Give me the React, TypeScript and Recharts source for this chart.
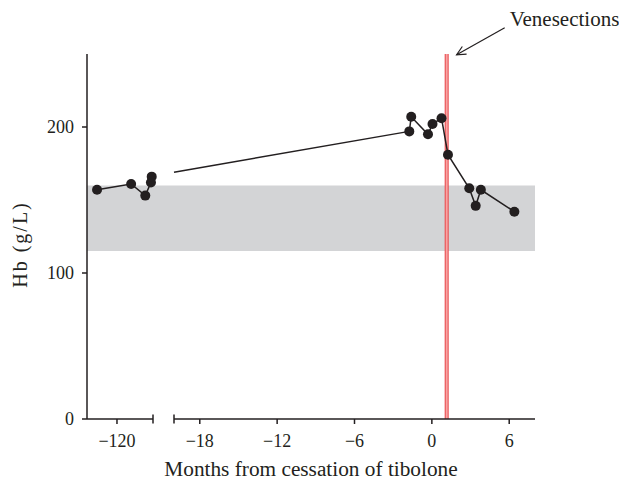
import React from 'react'
import {
  ComposedChart,
  Line,
  XAxis,
  YAxis,
  ReferenceArea,
  ReferenceLine,
} from 'recharts'

// months before cessation (early record, ~10 years earlier)
const earlyMonths = [-121.55, -118.9, -117.8, -117.36, -117.3]
const earlyHb = [157, 161, 153, 162, 166]

// months around cessation of tibolone
const recentMonths = [-1.75, -1.6, -0.3, 0.05, 0.75, 1.25, 2.9, 3.4, 3.8, 6.4]
const recentHb = [197, 207, 195, 202, 206, 181, 158, 146, 157, 142]

// line continues in from the axis break
const breakMonth = -20
const breakHb = 169

const normalRange = [115, 160]
const venesectionMonth = 1.15

const yTicks = [0, 100, 200]
const earlyTicks = [-120]
const recentTicks = [-18, -12, -6, 0, 6]

const earlyDomain = [-122.33, -117.2]
const recentDomain = [-20, 8]

const INK = '#231f20'
const W = 619
const H = 481
const FONT = '"Liberation Serif", "Times New Roman", serif'

const earlyData = earlyMonths.map((m, i) => ({ month: m, hb: earlyHb[i] }))
const recentData = recentMonths.map((m, i) => ({ month: m, hb: recentHb[i] }))
const bridgeData = [
  { month: breakMonth, hb: breakHb },
  { month: recentMonths[0], hb: recentHb[0] },
]

const fmt = (v: number) => String(v).replace('-', '\u2212')
const layer: React.CSSProperties = { position: 'absolute', left: 0, top: 0 }

// x tick: break ends get a bar across the axis, others a label
const makeTick = (breaks: number[]) => (props: any) => {
  const { x, y, payload } = props
  const axisY = y - 14
  if (breaks.includes(payload.value)) {
    return (
      <line x1={x} x2={x} y1={axisY - 4.5} y2={axisY + 4.5} stroke={INK} strokeWidth={1.5} />
    )
  }
  return (
    <g>
      <line x1={x} x2={x} y1={axisY} y2={axisY + 5} stroke={INK} strokeWidth={1.5} />
      <text x={x} y={axisY + 28} textAnchor="middle" fontSize={18} fill={INK} fontFamily={FONT}>
        {fmt(payload.value)}
      </text>
    </g>
  )
}

const Arrow = (props: any) => {
  const { x1, y1, x2, y2 } = props
  const a = Math.atan2(y2 - y1, x2 - x1)
  const L = 10
  const s = 0.45
  return (
    <g>
      <line x1={x1} y1={y1} x2={x2} y2={y2} stroke={INK} strokeWidth={1.2} />
      <polyline
        points={`${x2 - L * Math.cos(a - s)},${y2 - L * Math.sin(a - s)} ${x2},${y2} ${
          x2 - L * Math.cos(a + s)
        },${y2 - L * Math.sin(a + s)}`}
        fill="none"
        stroke={INK}
        strokeWidth={1.2}
      />
      <text x={x1 + 5} y={y1 - 2} fontSize={21} fill={INK} fontFamily={FONT}>
        Venesections
      </text>
    </g>
  )
}

const dot = { r: 5, fill: INK, stroke: INK, strokeWidth: 0 }

export default function App() {
  return (
    <div style={{ position: 'absolute', left: 0, top: 0, width: W, height: H, background: '#fff', fontFamily: FONT }}>
      {/* background: band, y axis, x title */}
      <div style={layer}>
        <ComposedChart
          width={W}
          height={H}
          data={[...earlyData, ...recentData]}
          margin={{ top: 54, right: 84, bottom: 32, left: 7 }}
        >
          <XAxis
            type="number"
            dataKey="month"
            domain={[earlyDomain[0], recentDomain[1]]}
            tick={false}
            tickLine={false}
            axisLine={false}
            height={30}
            label={{
              content: (p: any) => (
                <text
                  x={p.viewBox.x + p.viewBox.width / 2}
                  y={p.viewBox.y + 57}
                  textAnchor="middle"
                  fontSize={21.3}
                  fill={INK}
                  fontFamily={FONT}
                >
                  Months from cessation of tibolone
                </text>
              ),
            }}
          />
          <YAxis
            domain={[0, 250]}
            ticks={yTicks}
            width={80}
            tickSize={5}
            tickMargin={8}
            tick={{ fontSize: 18, fill: INK, fontFamily: FONT }}
            axisLine={{ stroke: INK, strokeWidth: 1.5 }}
            tickLine={{ stroke: INK, strokeWidth: 1.5 }}
            label={{
              content: (p: any) => {
                const cx = p.viewBox.x + 13
                const cy = p.viewBox.y + p.viewBox.height / 2 + 8
                return (
                  <text
                    x={cx}
                    y={cy}
                    transform={`rotate(-90 ${cx} ${cy})`}
                    textAnchor="middle"
                    dominantBaseline="central"
                    fontSize={20}
                    letterSpacing={2}
                    fill={INK}
                    fontFamily={FONT}
                  >
                    Hb (g/L)
                  </text>
                )
              },
            }}
          />
          <ReferenceArea y1={normalRange[0]} y2={normalRange[1]} fill="#d3d4d6" fillOpacity={1} stroke="none" />
          <Line dataKey="hb" stroke="none" dot={false} isAnimationActive={false} />
        </ComposedChart>
      </div>

      {/* early segment */}
      <div style={layer}>
        <ComposedChart width={W} height={H} data={earlyData} margin={{ top: 54, right: W - 153, bottom: 32, left: 87 }}>
          <XAxis
            type="number"
            dataKey="month"
            domain={earlyDomain}
            ticks={[...earlyTicks, earlyDomain[1]]}
            interval={0}
            tickSize={5}
            tickMargin={9}
            tick={makeTick([earlyDomain[1]])}
            tickLine={false}
            height={30}
            axisLine={{ stroke: INK, strokeWidth: 1.5 }}
          />
          <YAxis hide domain={[0, 250]} />
          <Line dataKey="hb" stroke={INK} strokeWidth={1.5} dot={dot} isAnimationActive={false} />
        </ComposedChart>
      </div>

      {/* recent segment */}
      <div style={layer}>
        <ComposedChart width={W} height={H} data={recentData} margin={{ top: 54, right: 84, bottom: 32, left: 174 }}>
          <XAxis
            type="number"
            dataKey="month"
            domain={recentDomain}
            ticks={[recentDomain[0], ...recentTicks]}
            interval={0}
            tickSize={5}
            tickMargin={9}
            tick={makeTick([recentDomain[0]])}
            tickLine={false}
            height={30}
            axisLine={{ stroke: INK, strokeWidth: 1.5 }}
          />
          <YAxis hide domain={[0, 250]} />
          <ReferenceLine x={venesectionMonth} stroke="#e8474a" strokeWidth={4} />
          <ReferenceLine x={venesectionMonth} stroke="#f7a3a3" strokeWidth={2} />
          <ReferenceLine
            segment={[
              { x: 5.65, y: 268 },
              { x: 1.92, y: 249.5 },
            ]}
            ifOverflow="visible"
            shape={Arrow}
          />
          <Line data={bridgeData} dataKey="hb" stroke={INK} strokeWidth={1.5} dot={false} isAnimationActive={false} />
          <Line dataKey="hb" stroke={INK} strokeWidth={1.5} dot={dot} isAnimationActive={false} />
        </ComposedChart>
      </div>
    </div>
  )
}
